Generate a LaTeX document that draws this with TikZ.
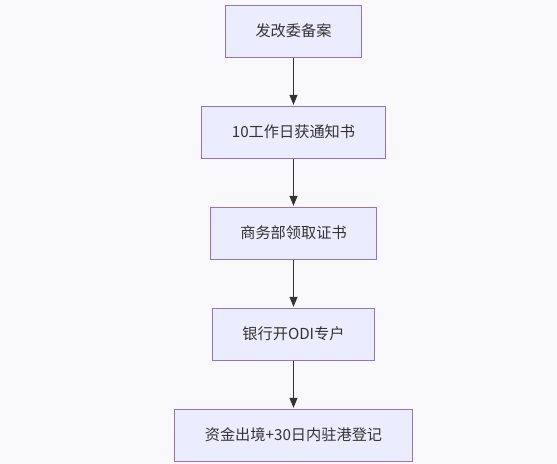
\documentclass[tikz,border=0pt]{standalone}
\usepackage{fontspec}
\setmainfont{Noto Sans CJK SC}
\usepackage{tikz}
\usetikzlibrary{positioning,arrows.meta}

\definecolor{boxfill}{HTML}{ECECFF}
\definecolor{boxline}{HTML}{9370DB}
\definecolor{ink}{HTML}{333333}
\definecolor{paper}{HTML}{F9F9FB}

\begin{document}
\begin{tikzpicture}[x=0.75pt,y=0.75pt,>={Triangle[length=7.5pt,width=6pt]},
    stepbox/.style={draw=boxline, fill=boxfill, line width=0.75pt, text=ink,
        minimum height=39pt, font=\fontsize{11.4}{13}\selectfont},
    flow/.style={->, draw=ink, line width=0.75pt, shorten >=0.5pt},
    node distance=36pt]
    % Background and canvas size
    \fill[paper] (0,0) rectangle (557,-464);
    \useasboundingbox (0,0) rectangle (557,-464);

    % Steps
    \node[stepbox, minimum width=102pt] (beian) at (293.5,-31) {发改委备案};
    \node[stepbox, minimum width=138pt, below=of beian] (notice) {10工作日获通知书};
    \node[stepbox, minimum width=125pt, below=of notice] (cert) {商务部领取证书};
    \node[stepbox, minimum width=121pt, below=of cert] (bank) {银行开ODI专户};
    \node[stepbox, minimum width=179pt, below=of bank] (fund) {资金出境+30日内驻港登记};

    % Arrows
    \draw[flow] (beian) -- (notice);
    \draw[flow] (notice) -- (cert);
    \draw[flow] (cert) -- (bank);
    \draw[flow] (bank) -- (fund);
\end{tikzpicture}
\end{document}
